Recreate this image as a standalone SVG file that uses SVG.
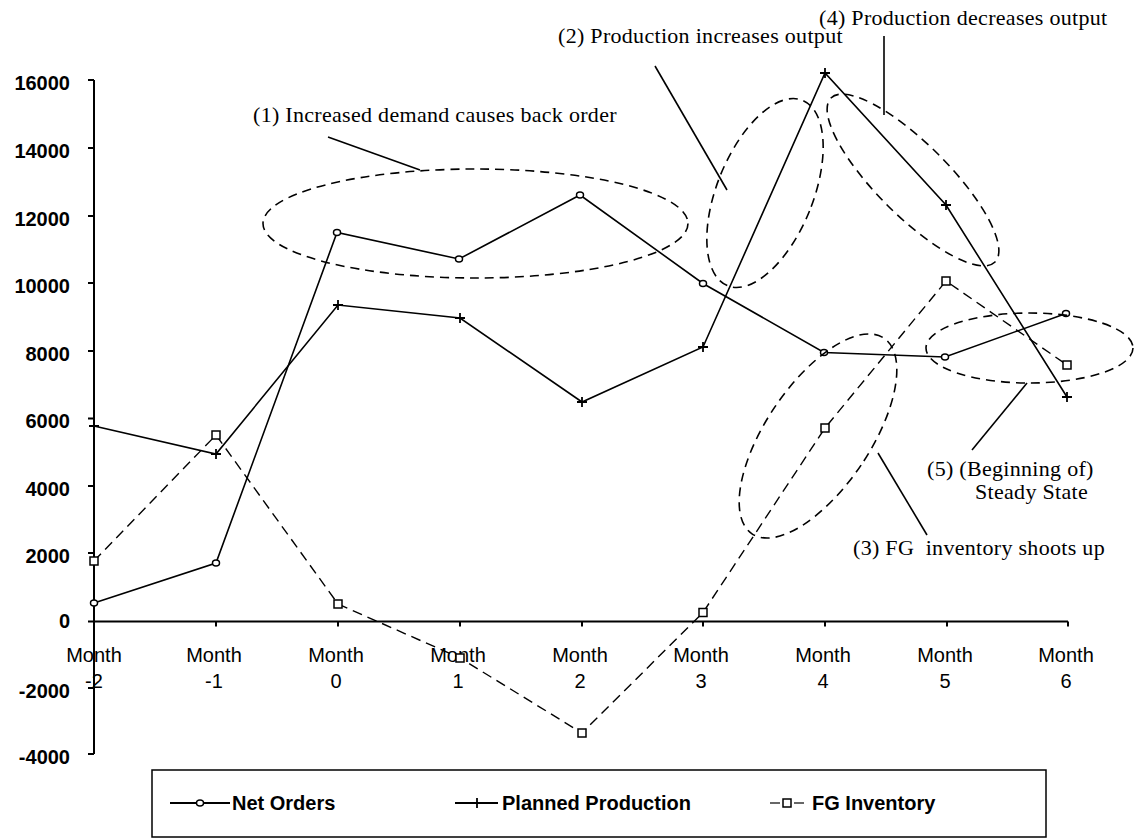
<svg xmlns="http://www.w3.org/2000/svg" width="1141" height="838" viewBox="0 0 1141 838">
<style>
.ax{stroke:#000;stroke-width:2;fill:none}
.yl{font-family:"Liberation Sans",Arial,sans-serif;font-weight:bold;font-size:20px;text-anchor:end;fill:#000}
.xl{font-family:"Liberation Sans",Arial,sans-serif;font-size:20px;text-anchor:middle;fill:#000}
.ann{font-family:"Liberation Serif","Times New Roman",serif;font-size:22px;fill:#000;letter-spacing:0.3px}
.lg{font-family:"Liberation Sans",Arial,sans-serif;font-weight:bold;font-size:20px;fill:#000}
.sl{stroke:#000;stroke-width:1.6;fill:none}
.fg{stroke:#000;stroke-width:1.4;fill:none;stroke-dasharray:10 6}
.el{stroke:#000;stroke-width:1.6;fill:none;stroke-dasharray:9 6}
.ld{stroke:#000;stroke-width:1.6;fill:none}
.mk{stroke:#000;stroke-width:1.5;fill:#fff}
</style>
<defs>
<ellipse id="circ" cx="0" cy="0" rx="3.5" ry="3" class="mk"/>
<path id="plus" d="M-5,0H5M0,-5V5" stroke="#000" stroke-width="1.8"/>
<rect id="sq" x="-4" y="-4" width="8" height="8" class="mk"/>
</defs>
<rect width="1141" height="838" fill="#fff"/>
<g id="axes">
<path class="ax" d="M94,80V754M88,80H94M88,148H94M88,216H94M88,283H94M88,351H94M88,418.5H94M88,486H94M88,553H94M88,621.5H94M88,688H94M88,754H94"/>
<path class="ax" d="M94,621.5H1068M216,621.5v5M338,621.5v5M460,621.5v5M582,621.5v5M703,621.5v5M825,621.5v5M947,621.5v5M1068,621.5v5"/>
<text class="yl" x="70" y="90">16000</text>
<text class="yl" x="70" y="158">14000</text>
<text class="yl" x="70" y="226">12000</text>
<text class="yl" x="70" y="293">10000</text>
<text class="yl" x="70" y="361">8000</text>
<text class="yl" x="70" y="428">6000</text>
<text class="yl" x="70" y="496">4000</text>
<text class="yl" x="70" y="563">2000</text>
<text class="yl" x="70" y="628">0</text>
<text class="yl" x="70" y="698">-2000</text>
<text class="yl" x="70" y="764">-4000</text>
<text class="xl" x="94" y="662">Month</text><text class="xl" x="94" y="688">-2</text>
<text class="xl" x="214" y="662">Month</text><text class="xl" x="214" y="688">-1</text>
<text class="xl" x="336" y="662">Month</text><text class="xl" x="336" y="688">0</text>
<text class="xl" x="458" y="662">Month</text><text class="xl" x="458" y="688">1</text>
<text class="xl" x="580" y="662">Month</text><text class="xl" x="580" y="688">2</text>
<text class="xl" x="701" y="662">Month</text><text class="xl" x="701" y="688">3</text>
<text class="xl" x="823" y="662">Month</text><text class="xl" x="823" y="688">4</text>
<text class="xl" x="945" y="662">Month</text><text class="xl" x="945" y="688">5</text>
<text class="xl" x="1066" y="662">Month</text><text class="xl" x="1066" y="688">6</text>
</g>
<g id="connectors">
<polyline id="fg-line" class="fg" points="94,561 216,435 338,604 460,658 582,733 703,612.5 825,428 946,281 1067,365"/>
<polyline id="net-orders-line" class="sl" points="94,603 216,563 337,232.5 459,259 580,195 703,283.5 824,352.5 945,357 1066,313.5"/>
<polyline id="planned-line" class="sl" points="94,426 216,454 338,305 460,318 582,402 703,347 825,73 946,205 1067,397"/>
<line class="ld" x1="328" y1="137" x2="420" y2="170"/>
<line class="ld" x1="655" y1="66" x2="727" y2="190"/>
<line class="ld" x1="884" y1="36" x2="884" y2="115"/>
<line class="ld" x1="878" y1="453" x2="927" y2="535"/>
<line class="ld" x1="1027" y1="383" x2="972" y2="450"/>
</g>
<g id="markers">
<use href="#circ" x="94" y="603"/><use href="#circ" x="216" y="563"/><use href="#circ" x="337" y="232.5"/><use href="#circ" x="459" y="259"/><use href="#circ" x="580" y="195"/><use href="#circ" x="703" y="283.5"/><use href="#circ" x="824" y="352.5"/><use href="#circ" x="945" y="357"/><use href="#circ" x="1066" y="313.5"/>
<use href="#plus" x="94" y="426"/><use href="#plus" x="216" y="454"/><use href="#plus" x="338" y="305"/><use href="#plus" x="460" y="318"/><use href="#plus" x="582" y="402"/><use href="#plus" x="703" y="347"/><use href="#plus" x="825" y="73"/><use href="#plus" x="946" y="205"/><use href="#plus" x="1067" y="397"/>
<use href="#sq" x="94" y="561"/><use href="#sq" x="216" y="435"/><use href="#sq" x="338" y="604"/><use href="#sq" x="460" y="658"/><use href="#sq" x="582" y="733"/><use href="#sq" x="703" y="612.5"/><use href="#sq" x="825" y="428"/><use href="#sq" x="946" y="281"/><use href="#sq" x="1067" y="365"/>
</g>
<g id="ann1">
<ellipse class="el" cx="475.5" cy="223.5" rx="212.5" ry="54.5"/>
<text class="ann" x="253" y="122">(1) Increased demand causes back order</text>
</g>
<g id="ann2">
<ellipse class="el" cx="765" cy="193" rx="48" ry="100" transform="rotate(22 765 193)"/>
<text class="ann" x="558" y="43">(2) Production increases output</text>
</g>
<g id="ann3">
<ellipse class="el" cx="818" cy="436" rx="52" ry="118" transform="rotate(34 818 436)"/>
<text class="ann" x="853" y="555" xml:space="preserve">(3) FG  inventory shoots up</text>
</g>
<g id="ann4">
<ellipse class="el" cx="913" cy="180" rx="116" ry="36" transform="rotate(45 913 180)"/>
<text class="ann" x="819" y="25">(4) Production decreases output</text>
</g>
<g id="ann5">
<ellipse class="el" cx="1029.5" cy="348" rx="103.5" ry="35"/>
<text class="ann" x="927" y="476">(5) (Beginning of)</text>
<text class="ann" x="975" y="499">Steady State</text>
</g>
<g id="legend">
<rect x="152" y="770" width="894" height="67" fill="none" stroke="#000" stroke-width="1.5"/>
<line x1="170" y1="803" x2="230" y2="803" stroke="#000" stroke-width="2"/><use href="#circ" x="200" y="803"/>
<text class="lg" x="232" y="810">Net Orders</text>
<line x1="455" y1="803" x2="498" y2="803" stroke="#000" stroke-width="2"/><use href="#plus" x="477" y="803"/>
<text class="lg" x="502" y="810">Planned Production</text>
<line x1="770" y1="803" x2="780" y2="803" stroke="#000" stroke-width="1.2"/><line x1="794" y1="803" x2="804" y2="803" stroke="#000" stroke-width="1.2"/><use href="#sq" x="787" y="803"/>
<text class="lg" x="812" y="810">FG Inventory</text>
</g>
</svg>
